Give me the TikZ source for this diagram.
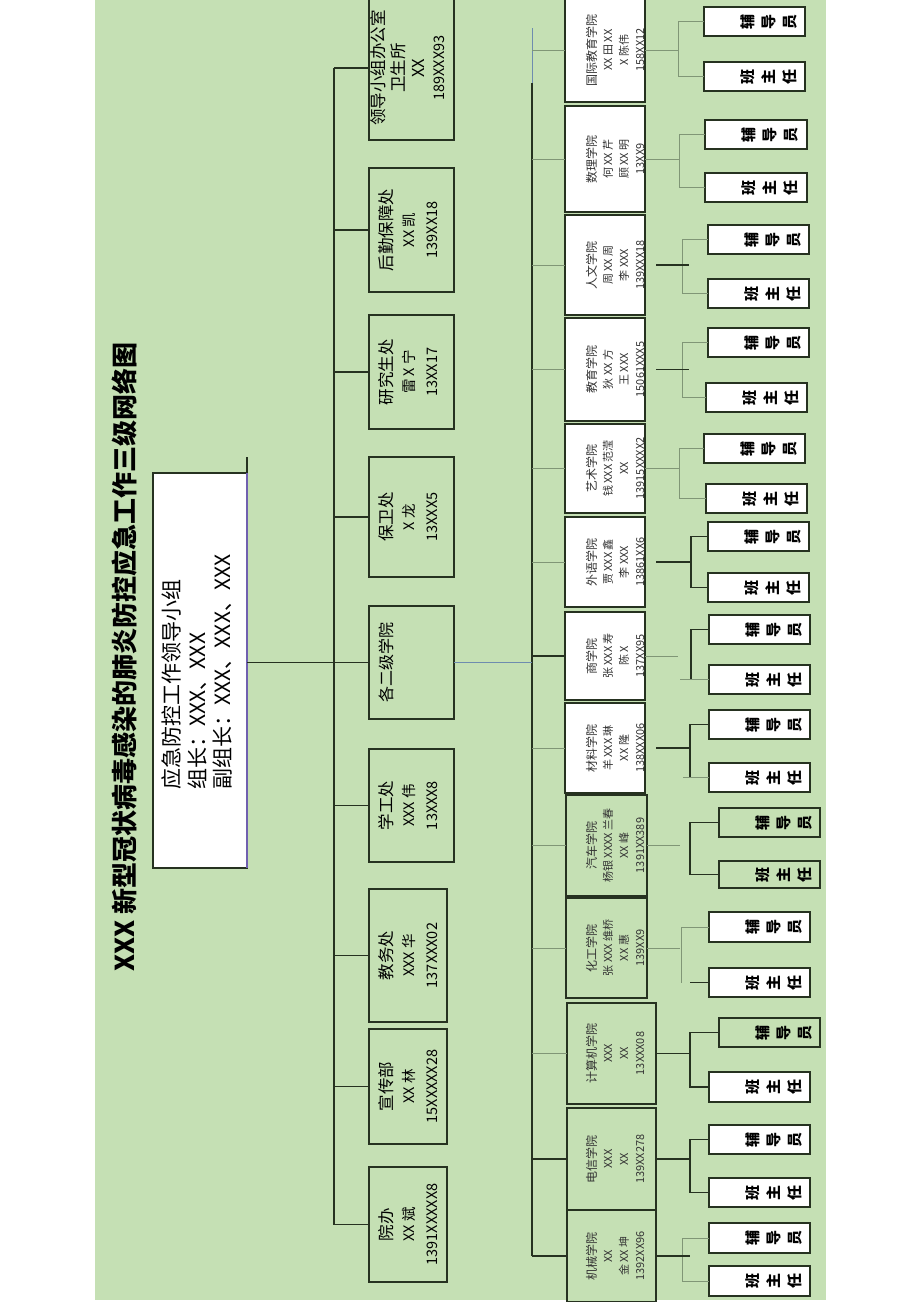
\documentclass[tikz,border=0pt]{standalone}
\usepackage{fontspec}
\setmainfont{Noto Sans CJK SC}
\usetikzlibrary{calc}
\definecolor{bg}{RGB}{197,224,180}
\definecolor{dk}{RGB}{38,50,32}
\definecolor{gr}{RGB}{128,150,118}
\definecolor{bl}{RGB}{110,140,175}
\definecolor{pu}{RGB}{112,96,176}
\newcommand\mybox[6]{%
  \pgfmathsetmacro\bxcx{(#3+#5)/2}\pgfmathsetmacro\bxcy{(#4+#6)/2}%
  \pgfmathsetmacro\bxw{#5-#3}\pgfmathsetmacro\bxh{#6-#4}%
  \node[#1, minimum width=\bxw pt, minimum height=\bxh pt] (#2) at (\bxcx,\bxcy) {};}
\tikzset{
  box/.style={draw=dk, line width=1.2pt, inner sep=0pt, outer sep=0pt},
  topbox/.style={box, fill=bg},
  leadbox/.style={box, fill=white},
  colbox/.style={box, fill=white, line width=1.5pt},
  colboxg/.style={box, fill=bg, line width=1.5pt},
  leafbox/.style={box, fill=white, line width=1.6pt},
  leafboxg/.style={box, fill=bg, line width=1.6pt},
  rot/.style={rotate=90, align=center, inner sep=0pt},
  toplab/.style={rot, font=\fontsize{14.5}{22.5}\selectfont},
  collab/.style={rot, font=\fontsize{11}{16}\selectfont, text=black!80},
  leaflab/.style={rot, font=\fontsize{15}{21}\selectfont\bfseries},
  ln/.style={draw=dk, line width=1.1pt},
  lg/.style={draw=gr, line width=0.8pt},
  lb/.style={draw=bl, line width=1pt}
}
\begin{document}
\begin{tikzpicture}[x=1pt,y=-1pt]
\useasboundingbox (0,0) rectangle (920,1302);
\fill[white] (0,0) rectangle (920,1302);
\fill[bg] (95,0) rectangle (826,1300);

% title
\node[rot, font=\fontsize{26}{30}\selectfont\bfseries] (title) at (125,657) {XXX 新型冠状病毒感染的肺炎防控应急工作三级网络图};

% leader box
\mybox{leadbox}{L}{153}{473}{247}{868}
\node[rotate=90, align=left, inner sep=0pt, font=\fontsize{21}{25.5}\selectfont] (Lt) at (197,672) {应急防控工作领导小组\\组长：XXX、XXX\\副组长：XXX、XXX、XXX};
\draw[pu, line width=2pt] (L.north east) -- (L.south east);
\draw[ln] (L.north east) -- ++(0,-16);

% top level boxes
\mybox{topbox}{T1}{369}{-4}{454}{140}
\mybox{topbox}{T2}{369}{168}{454}{292}
\mybox{topbox}{T3}{369}{315}{454}{429}
\mybox{topbox}{T4}{369}{457}{454}{577}
\mybox{topbox}{T5}{369}{606}{454}{719}
\mybox{topbox}{T6}{369}{749}{454}{862}
\mybox{topbox}{T7}{369}{889}{447}{1022}
\mybox{topbox}{T8}{369}{1029}{447}{1144}
\mybox{topbox}{T9}{369}{1167}{447}{1282}

\node[toplab, font=\fontsize{14.5}{20}\selectfont] (T1t) at (408,68) {{\fontsize{16.5}{20}\selectfont 领导小组办公室}\\{\fontsize{16.5}{20}\selectfont 卫生所}\\{\fontsize{16.5}{20}\selectfont XX}\\189XXX93};
\node[toplab] (T2t) at (408,230) {{\fontsize{16.5}{22.5}\selectfont 后勤保障处}\\XX 凯\\139XX18};
\node[toplab] (T3t) at (408,372) {{\fontsize{16.5}{22.5}\selectfont 研究生处}\\雷 X 宁\\13XX17};
\node[toplab] (T4t) at (408,517) {{\fontsize{16.5}{22.5}\selectfont 保卫处}\\X 龙\\13XXX5};
\node[rot, font=\fontsize{16}{22}\selectfont] (T5t) at (386,662.5) {各二级学院};
\node[toplab] (T6t) at (408,805.5) {{\fontsize{16.5}{22.5}\selectfont 学工处}\\XXX 伟\\13XXX8};
\node[toplab] (T7t) at (408,955.5) {{\fontsize{16.5}{22.5}\selectfont 教务处}\\XXX 华\\137XXX02};
\node[toplab] (T8t) at (408,1086.5) {{\fontsize{16.5}{22.5}\selectfont 宣传部}\\XX 林\\15XXXXX28};
\node[toplab] (T9t) at (408,1224.5) {{\fontsize{16.5}{22.5}\selectfont 院办}\\XX 斌\\1391XXXXX8};

% trunk 1
\coordinate (tr1) at (334,0);
\draw[ln] (T1.west -| tr1) -- (T9.west -| tr1);
\foreach \t in {T1,T2,T3,T4,T6,T7,T8,T9}{\draw[ln] (\t.west -| tr1) -- (\t.west);}
\draw[ln] (T5.west -| L.east) -- (T5.west);

% college boxes
\mybox{colbox}{C1}{565}{-2}{645}{102}
\mybox{colbox}{C2}{565}{106}{645}{212}
\mybox{colbox}{C3}{565}{215}{645}{315}
\mybox{colbox}{C4}{565}{318}{645}{421}
\mybox{colbox}{C5}{565}{424}{645}{513}
\mybox{colbox}{C6}{565}{517}{645}{607}
\mybox{colbox}{C7}{565}{612}{645}{700}
\mybox{colbox}{C8}{565}{703}{645}{793}
\mybox{colboxg}{C9}{566}{795}{647}{896}
\mybox{colboxg}{C10}{566}{898}{647}{998}
\mybox{colboxg}{C11}{567}{1003}{656}{1104}
\mybox{colboxg}{C12}{567}{1108}{656}{1210}
\mybox{colboxg}{C13}{567}{1210}{656}{1302}

\node[collab] (C1t) at (615,50) {{\fontsize{12}{16}\selectfont 国际教育学院}\\XX 田 XX\\X 陈伟\\158XX12};
\node[collab] (C2t) at (615,159) {{\fontsize{12}{16}\selectfont 数理学院}\\何 XX 芹\\顾 XX 明\\13XX9};
\node[collab] (C3t) at (615,265) {{\fontsize{12}{16}\selectfont 人文学院}\\周 XX 周\\李 XXX\\139XXX18};
\node[collab] (C4t) at (615,369.5) {{\fontsize{12}{16}\selectfont 教育学院}\\狄 XX 方\\王 XXX\\15061XXX5};
\node[collab] (C5t) at (615,468.5) {{\fontsize{12}{16}\selectfont 艺术学院}\\钱 XXX 范滢\\XX\\13915XXXX2};
\node[collab] (C6t) at (615,562) {{\fontsize{12}{16}\selectfont 外语学院}\\贾 XXX 鑫\\李 XXX\\13861XX6};
\node[collab] (C7t) at (615,656) {{\fontsize{12}{16}\selectfont 商学院}\\张 XXX 寿\\陈 X\\137XX95};
\node[collab] (C8t) at (615,748) {{\fontsize{12}{16}\selectfont 材料学院}\\羊 XXX 琳\\XX 隆\\138XXX06};
\node[collab] (C9t) at (615,845.5) {{\fontsize{12}{16}\selectfont 汽车学院}\\杨银 XXXX 兰春\\XX 峰\\1391XX389};
\node[collab] (C10t) at (615,948) {{\fontsize{12}{16}\selectfont 化工学院}\\张 XXX 维桥\\XX 惠\\139XX9};
\node[collab] (C11t) at (615,1053.5) {{\fontsize{12}{16}\selectfont 计算机学院}\\XXX\\XX\\13XXX08};
\node[collab] (C12t) at (615,1159) {{\fontsize{12}{16}\selectfont 电信学院}\\XXX\\XX\\139XX278};
\node[collab] (C13t) at (615,1256) {{\fontsize{12}{16}\selectfont 机械学院}\\XX\\金 XX 坤\\1392XX96};

% trunk 2
\coordinate (tr2) at (532,0);
\coordinate (tr2a) at (532,28);
\coordinate (tr2b) at (532,83);
\draw[lb] (tr2a) -- (tr2b);
\draw[ln] (tr2b) -- (C13.west -| tr2);
\draw[lb] (T5.east) -- (T5.east -| tr2);
\foreach \c in {C1,C2,C3,C4,C5,C6,C8,C9,C10,C11}{\draw[lg] (\c.west -| tr2) -- (\c.west);}
\foreach \c in {C7,C12,C13}{\draw[ln] (\c.west -| tr2) -- (\c.west);}

% leaf boxes
\mybox{leafbox}{F1}{704}{7}{805}{36}     \mybox{leafbox}{B1}{704}{62}{805}{91}
\mybox{leafbox}{F2}{705}{120}{807}{149}  \mybox{leafbox}{B2}{705}{173}{807}{202}
\mybox{leafbox}{F3}{708}{225}{809}{254}  \mybox{leafbox}{B3}{708}{279}{809}{308}
\mybox{leafbox}{F4}{708}{328}{809}{357}  \mybox{leafbox}{B4}{706}{383}{807}{412}
\mybox{leafbox}{F5}{704}{434}{805}{463}  \mybox{leafbox}{B5}{706}{484}{807}{513}
\mybox{leafbox}{F6}{708}{522}{809}{551}  \mybox{leafbox}{B6}{708}{573}{809}{602}
\mybox{leafbox}{F7}{709}{615}{810}{644}  \mybox{leafbox}{B7}{709}{665}{810}{694}
\mybox{leafbox}{F8}{709}{710}{810}{739}  \mybox{leafbox}{B8}{709}{763}{810}{792}
\mybox{leafboxg}{F9}{719}{808}{820}{837} \mybox{leafboxg}{B9}{719}{861}{820}{888}
\mybox{leafbox}{F10}{709}{912}{810}{942} \mybox{leafbox}{B10}{709}{968}{810}{997}
\mybox{leafboxg}{F11}{719}{1018}{820}{1047} \mybox{leafbox}{B11}{709}{1072}{810}{1102}
\mybox{leafbox}{F12}{709}{1125}{810}{1154} \mybox{leafbox}{B12}{709}{1178}{810}{1207}
\mybox{leafbox}{F13}{709}{1223}{810}{1253} \mybox{leafbox}{B13}{709}{1266}{810}{1296}

\foreach \i in {1,...,13}{
  \node[leaflab] (F\i t) at ([xshift=14pt]F\i.center) {辅\\导\\员};
  \node[leaflab] (B\i t) at ([xshift=14pt]B\i.center) {班\\主\\任};
}

% bracket x positions
\coordinate (k1) at (678,0);  \coordinate (k2) at (679,0);
\coordinate (k3) at (682,0);  \coordinate (k4) at (682,0);
\coordinate (k5) at (679,0);  \coordinate (k6) at (691,0);
\coordinate (k7) at (691,0);  \coordinate (k8) at (690,0);
\coordinate (k9) at (690,0);  \coordinate (k10) at (681,0);
\coordinate (k11) at (690,0); \coordinate (k12) at (690,0);
\coordinate (k13) at (682,0);

% groups 1,2,5: all grey
\foreach \i in {1,2,5}{
  \draw[lg] (F\i.west) -| (k\i |- B\i.west) -- (B\i.west);
  \draw[lg] (C\i.east) -- (C\i.east -| k\i);
}
% groups 3,4
\foreach \i in {3,4}{
  \draw[lg] (F\i.west) -| (k\i |- B\i.west) -- (B\i.west);
  \draw[ln] ([xshift=11pt]C\i.east) -- ([xshift=44pt]C\i.east);
}
% group 6
\draw[ln] (F6.west) -| (k6 |- B6.west) -- (B6.west);
\draw[ln] ([xshift=11pt]C6.east) -- (C6.east -| k6);
% group 7
\draw[ln] (F7.west) -| (k7 |- B7.west);
\draw[lg] (B7.west) -- ++(-29,0);
\draw[lg] (C7.east) -- ++(33,0);
% group 8
\draw[ln] (F8.west) -| (k8 |- B8.west);
\draw[lg] (B8.west) -- ++(-26,0);
\draw[ln] ([xshift=11pt]C8.east) -- (C8.east -| k8);
% group 9
\draw[ln] (F9.west) -| (k9 |- B9.west) -- (B9.west);
\draw[lg] (C9.east) -- ++(33,0);
% group 10
\draw[lg] (F10.west) -| (k10 |- B10.west);
\draw[ln] (B10.west) -- ++(-19,0);
\draw[lg] (C10.east) -- ++(33,0);
% groups 11,12
\foreach \i in {11,12}{
  \draw[ln] (F\i.west) -| (k\i |- B\i.west) -- (B\i.west);
  \draw[ln] (C\i.east) -- (C\i.east -| k\i);
}
% group 13
\draw[lg] (F13.west) -| (k13 |- B13.west) -- (B13.west);
\draw[ln] (C13.east) -- ++(34,0);
\end{tikzpicture}
\end{document}
